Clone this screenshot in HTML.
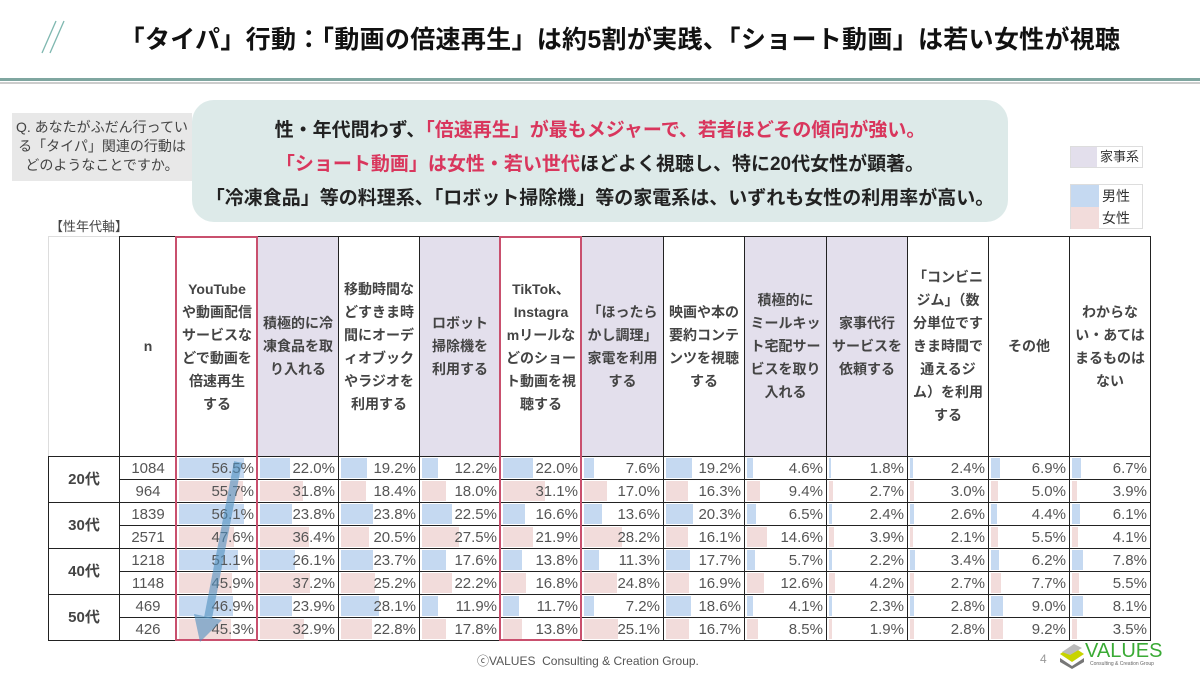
<!DOCTYPE html>
<html><head><meta charset="utf-8">
<style>
*{margin:0;padding:0;box-sizing:border-box}
body{width:1200px;height:675px;background:#fff;position:relative;overflow:hidden;font-family:"Liberation Sans","Noto Sans CJK JP",sans-serif;color:#333}
.abs{position:absolute}
.title{left:0;width:1240px;top:20px;text-align:center;font-size:25px;font-weight:bold;color:#111;letter-spacing:0.3px}
.q{left:12px;top:113px;width:180px;height:68px;background:#e8e8e8;font-size:14px;color:#444;text-align:center;line-height:19px;padding-top:5px}
.call{left:192px;top:100px;width:816px;height:122px;background:#ddeae9;border-radius:22px;text-align:center;font-size:19px;font-weight:bold;color:#222;line-height:34px;padding-top:14px}
.red{color:#d9365d}
table{position:absolute;left:48px;top:236px;border-collapse:collapse;table-layout:fixed}
td{border:1.5px solid #222;position:relative;font-size:15px;color:#555;text-align:right;padding:0 3px 0 0;height:23px;line-height:21px;white-space:nowrap}
thead td{height:220px;text-align:center;font-size:14px;font-weight:bold;color:#444;line-height:23px;padding:0 5px;white-space:normal;word-break:break-all}
td.hl{background:#e3dfec}
td.n{text-align:center;color:#555;padding:0}
td.age{text-align:center;font-weight:bold;font-size:15px;color:#444;padding:0}
.b,.g{position:absolute;left:2px;top:1px;bottom:1px;width:calc(var(--p)*1.35px);z-index:0}
.b{background:#c5d9f1}.g{background:#f2dcdb}
.c1 .b,.c1 .g{width:calc(var(--p)*1.15px)}
td span{position:relative;z-index:1}
.box{border:2px solid #c9506e;top:236px;height:405px;z-index:3}
</style></head><body>
<svg class="abs" style="left:36px;top:18px" width="40" height="40"><line x1="6" y1="35" x2="20" y2="3" stroke="#7fb8b0" stroke-width="1.3"/><line x1="14" y1="35" x2="28" y2="3" stroke="#7fb8b0" stroke-width="1.3"/></svg>
<div class="abs title">「タイパ」行動：「動画の倍速再生」は約5割が実践、「ショート動画」は若い女性が視聴</div>
<div class="abs" style="left:0;top:78px;width:1200px;height:3px;background:#7fa6a0"></div>
<div class="abs" style="left:0;top:82px;width:1200px;height:2px;background:#ccc"></div>
<div class="abs call">性・年代問わず、<span class="red">「倍速再生」が最もメジャーで、若者ほどその傾向が強い。</span><br><span class="red">「ショート動画」は女性・若い世代</span>ほどよく視聴し、特に20代女性が顕著。<br>「冷凍食品」等の料理系、「ロボット掃除機」等の家電系は、いずれも女性の利用率が高い。</div>
<div class="abs q">Q. あなたがふだん行ってい<br>る「タイパ」関連の行動は<br>どのようなことですか。</div>
<div class="abs" style="left:50px;top:216px;font-size:13px;color:#444">【性年代軸】</div>
<div class="abs" style="left:1070px;top:146px;width:73px;height:22px;border:1px solid #ddd;background:#fff;font-size:13px;line-height:20px"><div class="abs" style="left:0;top:0;width:26px;height:20px;background:#e3dfec"></div><span style="position:absolute;left:29px">家事系</span></div>
<div class="abs" style="left:1070px;top:184px;width:73px;height:45px;border:1px solid #ddd;font-size:14px;line-height:22px"><div class="abs" style="left:0;top:0;width:28px;height:22px;background:#c5d9f1"></div><div class="abs" style="left:0;top:22px;width:28px;height:22px;background:#f2dcdb"></div><span style="position:absolute;left:31px;top:0">男性</span><span style="position:absolute;left:31px;top:22px">女性</span></div>
<table>
<colgroup><col style="width:71px"><col style="width:57px"><col style="width:81px"><col style="width:81px"><col style="width:81px"><col style="width:81px"><col style="width:81px"><col style="width:82px"><col style="width:81px"><col style="width:82px"><col style="width:81px"><col style="width:81px"><col style="width:81px"><col style="width:81px"></colgroup>
<thead><tr><td style="border-top-color:#ddd;border-left-color:#ddd"></td><td>n</td><td>YouTube<br>や動画配信<br>サービスな<br>どで動画を<br>倍速再生<br>する</td><td class="hl">積極的に冷凍食品を取り入れる</td><td>移動時間などすきま時間にオーディオブックやラジオを利用する</td><td class="hl">ロボット<br>掃除機を<br>利用する</td><td>TikTok、<br>Instagra<br>mリールなどのショート動画を視聴する</td><td class="hl">「ほったらかし調理」家電を利用する</td><td>映画や本の要約コンテンツを視聴する</td><td class="hl">積極的に<br>ミールキット宅配サービスを取り入れる</td><td class="hl">家事代行<br>サービスを<br>依頼する</td><td>「コンビニジム」（数分単位ですきま時間で通えるジム）を利用する</td><td>その他</td><td>わからない・あてはまるものはない</td></tr></thead>
<tbody>
<tr><td class="age" rowspan="2">20代</td><td class="n">1084</td><td class="c1"><div class="b" style="--p:56.5"></div><span>56.5%</span></td><td><div class="b" style="--p:22.0"></div><span>22.0%</span></td><td><div class="b" style="--p:19.2"></div><span>19.2%</span></td><td><div class="b" style="--p:12.2"></div><span>12.2%</span></td><td><div class="b" style="--p:22.0"></div><span>22.0%</span></td><td><div class="b" style="--p:7.6"></div><span>7.6%</span></td><td><div class="b" style="--p:19.2"></div><span>19.2%</span></td><td><div class="b" style="--p:4.6"></div><span>4.6%</span></td><td><div class="b" style="--p:1.8"></div><span>1.8%</span></td><td><div class="b" style="--p:2.4"></div><span>2.4%</span></td><td><div class="b" style="--p:6.9"></div><span>6.9%</span></td><td><div class="b" style="--p:6.7"></div><span>6.7%</span></td></tr>
<tr><td class="n">964</td><td class="c1"><div class="g" style="--p:55.7"></div><span>55.7%</span></td><td><div class="g" style="--p:31.8"></div><span>31.8%</span></td><td><div class="g" style="--p:18.4"></div><span>18.4%</span></td><td><div class="g" style="--p:18.0"></div><span>18.0%</span></td><td><div class="g" style="--p:31.1"></div><span>31.1%</span></td><td><div class="g" style="--p:17.0"></div><span>17.0%</span></td><td><div class="g" style="--p:16.3"></div><span>16.3%</span></td><td><div class="g" style="--p:9.4"></div><span>9.4%</span></td><td><div class="g" style="--p:2.7"></div><span>2.7%</span></td><td><div class="g" style="--p:3.0"></div><span>3.0%</span></td><td><div class="g" style="--p:5.0"></div><span>5.0%</span></td><td><div class="g" style="--p:3.9"></div><span>3.9%</span></td></tr>
<tr><td class="age" rowspan="2">30代</td><td class="n">1839</td><td class="c1"><div class="b" style="--p:56.1"></div><span>56.1%</span></td><td><div class="b" style="--p:23.8"></div><span>23.8%</span></td><td><div class="b" style="--p:23.8"></div><span>23.8%</span></td><td><div class="b" style="--p:22.5"></div><span>22.5%</span></td><td><div class="b" style="--p:16.6"></div><span>16.6%</span></td><td><div class="b" style="--p:13.6"></div><span>13.6%</span></td><td><div class="b" style="--p:20.3"></div><span>20.3%</span></td><td><div class="b" style="--p:6.5"></div><span>6.5%</span></td><td><div class="b" style="--p:2.4"></div><span>2.4%</span></td><td><div class="b" style="--p:2.6"></div><span>2.6%</span></td><td><div class="b" style="--p:4.4"></div><span>4.4%</span></td><td><div class="b" style="--p:6.1"></div><span>6.1%</span></td></tr>
<tr><td class="n">2571</td><td class="c1"><div class="g" style="--p:47.6"></div><span>47.6%</span></td><td><div class="g" style="--p:36.4"></div><span>36.4%</span></td><td><div class="g" style="--p:20.5"></div><span>20.5%</span></td><td><div class="g" style="--p:27.5"></div><span>27.5%</span></td><td><div class="g" style="--p:21.9"></div><span>21.9%</span></td><td><div class="g" style="--p:28.2"></div><span>28.2%</span></td><td><div class="g" style="--p:16.1"></div><span>16.1%</span></td><td><div class="g" style="--p:14.6"></div><span>14.6%</span></td><td><div class="g" style="--p:3.9"></div><span>3.9%</span></td><td><div class="g" style="--p:2.1"></div><span>2.1%</span></td><td><div class="g" style="--p:5.5"></div><span>5.5%</span></td><td><div class="g" style="--p:4.1"></div><span>4.1%</span></td></tr>
<tr><td class="age" rowspan="2">40代</td><td class="n">1218</td><td class="c1"><div class="b" style="--p:51.1"></div><span>51.1%</span></td><td><div class="b" style="--p:26.1"></div><span>26.1%</span></td><td><div class="b" style="--p:23.7"></div><span>23.7%</span></td><td><div class="b" style="--p:17.6"></div><span>17.6%</span></td><td><div class="b" style="--p:13.8"></div><span>13.8%</span></td><td><div class="b" style="--p:11.3"></div><span>11.3%</span></td><td><div class="b" style="--p:17.7"></div><span>17.7%</span></td><td><div class="b" style="--p:5.7"></div><span>5.7%</span></td><td><div class="b" style="--p:2.2"></div><span>2.2%</span></td><td><div class="b" style="--p:3.4"></div><span>3.4%</span></td><td><div class="b" style="--p:6.2"></div><span>6.2%</span></td><td><div class="b" style="--p:7.8"></div><span>7.8%</span></td></tr>
<tr><td class="n">1148</td><td class="c1"><div class="g" style="--p:45.9"></div><span>45.9%</span></td><td><div class="g" style="--p:37.2"></div><span>37.2%</span></td><td><div class="g" style="--p:25.2"></div><span>25.2%</span></td><td><div class="g" style="--p:22.2"></div><span>22.2%</span></td><td><div class="g" style="--p:16.8"></div><span>16.8%</span></td><td><div class="g" style="--p:24.8"></div><span>24.8%</span></td><td><div class="g" style="--p:16.9"></div><span>16.9%</span></td><td><div class="g" style="--p:12.6"></div><span>12.6%</span></td><td><div class="g" style="--p:4.2"></div><span>4.2%</span></td><td><div class="g" style="--p:2.7"></div><span>2.7%</span></td><td><div class="g" style="--p:7.7"></div><span>7.7%</span></td><td><div class="g" style="--p:5.5"></div><span>5.5%</span></td></tr>
<tr><td class="age" rowspan="2">50代</td><td class="n">469</td><td class="c1"><div class="b" style="--p:46.9"></div><span>46.9%</span></td><td><div class="b" style="--p:23.9"></div><span>23.9%</span></td><td><div class="b" style="--p:28.1"></div><span>28.1%</span></td><td><div class="b" style="--p:11.9"></div><span>11.9%</span></td><td><div class="b" style="--p:11.7"></div><span>11.7%</span></td><td><div class="b" style="--p:7.2"></div><span>7.2%</span></td><td><div class="b" style="--p:18.6"></div><span>18.6%</span></td><td><div class="b" style="--p:4.1"></div><span>4.1%</span></td><td><div class="b" style="--p:2.3"></div><span>2.3%</span></td><td><div class="b" style="--p:2.8"></div><span>2.8%</span></td><td><div class="b" style="--p:9.0"></div><span>9.0%</span></td><td><div class="b" style="--p:8.1"></div><span>8.1%</span></td></tr>
<tr><td class="n">426</td><td class="c1"><div class="g" style="--p:45.3"></div><span>45.3%</span></td><td><div class="g" style="--p:32.9"></div><span>32.9%</span></td><td><div class="g" style="--p:22.8"></div><span>22.8%</span></td><td><div class="g" style="--p:17.8"></div><span>17.8%</span></td><td><div class="g" style="--p:13.8"></div><span>13.8%</span></td><td><div class="g" style="--p:25.1"></div><span>25.1%</span></td><td><div class="g" style="--p:16.7"></div><span>16.7%</span></td><td><div class="g" style="--p:8.5"></div><span>8.5%</span></td><td><div class="g" style="--p:1.9"></div><span>1.9%</span></td><td><div class="g" style="--p:2.8"></div><span>2.8%</span></td><td><div class="g" style="--p:9.2"></div><span>9.2%</span></td><td><div class="g" style="--p:3.5"></div><span>3.5%</span></td></tr>
</tbody></table>
<div class="abs box" style="left:175px;width:83px"></div>
<div class="abs box" style="left:499px;width:83px"></div>
<svg class="abs" style="left:0;top:0;z-index:4" width="1200" height="675"><line x1="238" y1="462" x2="208" y2="618" stroke="#4f8fc0" stroke-opacity="0.6" stroke-width="8"/><polygon points="194,614 222,620 200,642" fill="#4f8fc0" fill-opacity="0.6"/></svg>
<div class="abs" style="left:477px;top:652px;font-size:12px;color:#555">ⓒVALUES&nbsp; Consulting &amp; Creation Group.</div>
<div class="abs" style="left:1040px;top:652px;font-size:12px;color:#999">4</div>
<svg class="abs" style="left:1058px;top:642px" width="28" height="28"><polygon points="2,12 14,4 26,12 14,20" fill="#c8d400"/><polygon points="2,16 14,24 26,16 26,20 14,27 2,20" fill="#777"/><polygon points="4,10 16,2 24,6 12,13" fill="#bbb"/></svg>
<div class="abs" style="left:1085px;top:640px;font-size:20px;color:#3aaa35;font-family:'Liberation Sans Narrow','Liberation Sans',sans-serif">VALUES</div>
<div class="abs" style="left:1090px;top:661px;font-size:5px;color:#666">Consulting &amp; Creation Group</div>
</body></html>
